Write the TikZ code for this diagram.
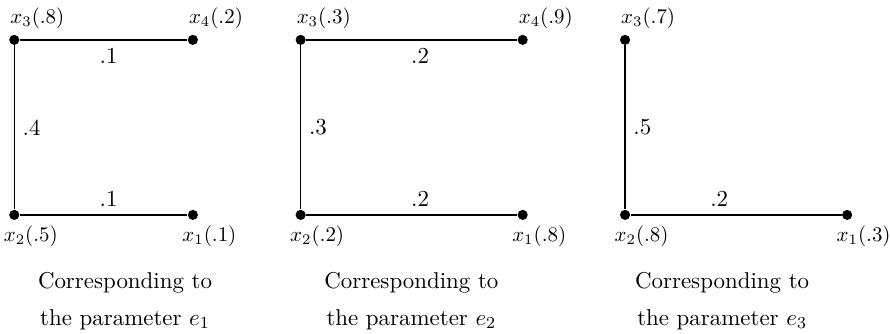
\documentclass[tikz,border=0pt,11pt]{standalone}
\usepackage{amsmath,amssymb}
\usetikzlibrary{positioning}

\begin{document}
\begin{tikzpicture}[
    vertex/.style={circle, fill, inner sep=0pt, minimum size=0.17cm},
    toplbl/.style={anchor=south west, xshift=-0.16cm, inner sep=2.5pt, font=\small},
    botlbl/.style={anchor=north west, xshift=-0.27cm, inner sep=2.5pt, font=\small},
    edge/.style={line width=0.7pt},
    caption/.style={align=center}
]
\useasboundingbox (0,0) rectangle (14.95,5.61);

% parameter e1
\node[vertex, label={[toplbl]above:$x_3(.8)$}] (a3) at (0.24,4.94) {};
\node[vertex, label={[toplbl]above:$x_4(.2)$}] (a4) at (3.24,4.94) {};
\node[vertex, label={[botlbl]below:$x_2(.5)$}] (a2) at (0.24,2.00) {};
\node[vertex, label={[botlbl]below:$x_1(.1)$}] (a1) at (3.24,2.00) {};
\draw[edge] (a3) -- node[below, pos=0.53] {.1} (a4);
\draw[edge] (a3) -- node[right] {.4} (a2);
\draw[edge] (a2) -- node[above, pos=0.53] {.1} (a1);
\node[caption] (c1) at (2.10,0.55) {Corresponding to\\[4pt]the parameter $e_1$};

% parameter e2
\node[vertex, label={[toplbl]above:$x_3(.3)$}] (b3) at (5.05,4.94) {};
\node[vertex, label={[toplbl]above:$x_4(.9)$}] (b4) at (8.78,4.94) {};
\node[vertex, label={[botlbl]below:$x_2(.2)$}] (b2) at (5.05,2.00) {};
\node[vertex, label={[botlbl]below:$x_1(.8)$}] (b1) at (8.78,2.00) {};
\draw[edge] (b3) -- node[below, pos=0.54] {.2} (b4);
\draw[edge] (b3) -- node[right] {.3} (b2);
\draw[edge] (b2) -- node[above, pos=0.54] {.2} (b1);
\node[caption] (c2) at (6.91,0.55) {Corresponding to\\[4pt]the parameter $e_2$};

% parameter e3
\node[vertex, label={[toplbl]above:$x_3(.7)$}] (d3) at (10.50,4.94) {};
\node[vertex, label={[botlbl]below:$x_2(.8)$}] (d2) at (10.50,2.00) {};
\node[vertex, label={[botlbl]below:$x_1(.3)$}] (d1) at (14.23,2.00) {};
\draw[edge] (d3) -- node[right] {.5} (d2);
\draw[edge] (d2) -- node[above, pos=0.42] {.2} (d1);
\node[caption] (c3) at (12.13,0.55) {Corresponding to\\[4pt]the parameter $e_3$};
\end{tikzpicture}
\end{document}
